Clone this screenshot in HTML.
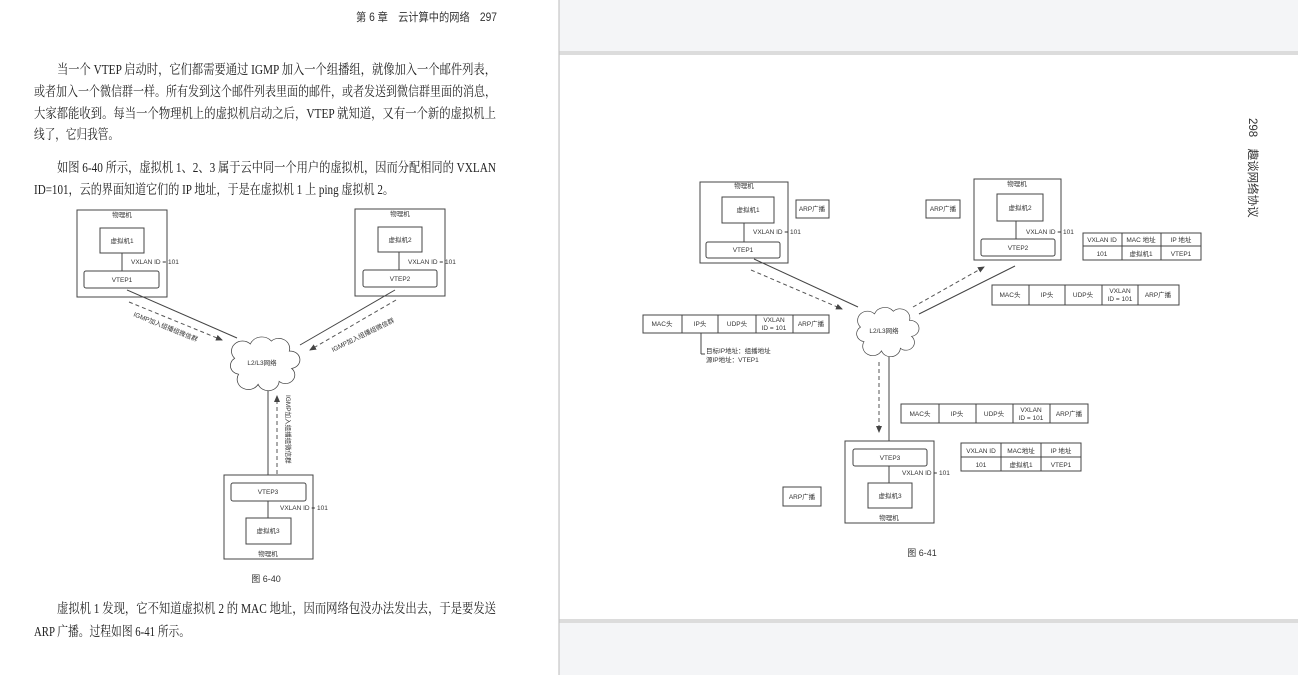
<!DOCTYPE html>
<html><head><meta charset="utf-8"><style>
html,body{margin:0;padding:0;background:#fff;}
svg{display:block;}
.s{font-family:"Liberation Serif","Noto Serif CJK SC",serif;font-size:13.5px;fill:#222;}
.h{font-family:"Liberation Sans","Noto Sans CJK SC",sans-serif;font-size:11.5px;fill:#333;}
.d{font-family:"Liberation Sans","Noto Sans CJK SC",sans-serif;font-size:6.5px;fill:#333;}
.c{font-family:"Liberation Sans","Noto Sans CJK SC",sans-serif;font-size:9px;fill:#333;}
rect.b,path.b{fill:#fff;stroke:#444;stroke-width:1;}
line.l{stroke:#444;stroke-width:1;}
line.da{stroke:#555;stroke-width:1;stroke-dasharray:4,3;}
</style></head><body>
<svg width="1298" height="675" viewBox="0 0 1298 675" xmlns="http://www.w3.org/2000/svg">
<defs>
<marker id="ar" markerWidth="8" markerHeight="8" refX="6" refY="3" orient="auto" markerUnits="userSpaceOnUse"><path d="M0,0 L7,3 L0,6 Z" fill="#444"/></marker>
<path id="cloud" d="M20,60 A12,12 0 0 1 15,38 A14,14 0 0 1 35,18 A16,16 0 0 1 62,14 A14,14 0 0 1 85,28 A12,12 0 0 1 88,52 A12,12 0 0 1 72,70 A14,14 0 0 1 45,74 A14,14 0 0 1 20,60 Z"/>
</defs>
<!-- right side background -->
<rect x="559" y="0" width="739" height="675" fill="#f4f5f7"/>
<rect x="559" y="51" width="739" height="4" fill="#dcdcdc"/>
<rect x="560" y="55" width="738" height="565" fill="#fff"/>
<rect x="559" y="619" width="739" height="4" fill="#dcdcdc"/>
<line x1="559" y1="0" x2="559" y2="675" stroke="#bbb" stroke-width="1"/>

<!-- left page text -->
<text class="h" x="356" y="21" textLength="141" lengthAdjust="spacingAndGlyphs">第 6 章　云计算中的网络　297</text>
<text class="s" x="57" y="74" textLength="439" lengthAdjust="spacingAndGlyphs">当一个 VTEP 启动时，它们都需要通过 IGMP 加入一个组播组，就像加入一个邮件列表，</text>
<text class="s" x="34" y="96" textLength="462" lengthAdjust="spacingAndGlyphs">或者加入一个微信群一样。所有发到这个邮件列表里面的邮件，或者发送到微信群里面的消息，</text>
<text class="s" x="34" y="118" textLength="462" lengthAdjust="spacingAndGlyphs">大家都能收到。每当一个物理机上的虚拟机启动之后，VTEP 就知道，又有一个新的虚拟机上</text>
<text class="s" x="34" y="139" textLength="85" lengthAdjust="spacingAndGlyphs">线了，它归我管。</text>
<text class="s" x="57" y="172" textLength="439" lengthAdjust="spacingAndGlyphs">如图 6-40 所示，虚拟机 1、2、3 属于云中同一个用户的虚拟机，因而分配相同的 VXLAN</text>
<text class="s" x="34" y="194" textLength="360" lengthAdjust="spacingAndGlyphs">ID=101，云的界面知道它们的 IP 地址，于是在虚拟机 1 上 ping 虚拟机 2。</text>
<text class="s" x="57" y="613" textLength="439" lengthAdjust="spacingAndGlyphs">虚拟机 1 发现，它不知道虚拟机 2 的 MAC 地址，因而网络包没办法发出去，于是要发送</text>
<text class="s" x="34" y="636" textLength="156" lengthAdjust="spacingAndGlyphs">ARP 广播。过程如图 6-41 所示。</text>

<!-- Fig 6-40 -->
<rect class="b" x="77" y="210" width="90" height="87"/>
<text class="d" x="122" y="217" text-anchor="middle">物理机</text>
<rect class="b" x="100" y="228" width="44" height="25"/>
<text class="d" x="122" y="243" text-anchor="middle">虚拟机1</text>
<line class="l" x1="122" y1="253" x2="122" y2="271"/>
<text class="d" x="131" y="264">VXLAN ID = 101</text>
<rect class="b" x="84" y="271" width="75" height="17" rx="2"/>
<text class="d" x="122" y="282" text-anchor="middle">VTEP1</text>

<rect class="b" x="355" y="209" width="90" height="87"/>
<text class="d" x="400" y="216" text-anchor="middle">物理机</text>
<rect class="b" x="378" y="227" width="44" height="25"/>
<text class="d" x="400" y="242" text-anchor="middle">虚拟机2</text>
<line class="l" x1="399" y1="252" x2="399" y2="270"/>
<text class="d" x="408" y="264">VXLAN ID = 101</text>
<rect class="b" x="363" y="270" width="74" height="17" rx="2"/>
<text class="d" x="400" y="281" text-anchor="middle">VTEP2</text>

<line class="l" x1="127" y1="290" x2="237" y2="338"/>
<line class="da" x1="129" y1="302" x2="222" y2="340" marker-end="url(#ar)"/>
<text class="d" transform="translate(133,316) rotate(22)">IGMP加入组播组微信群</text>
<line class="l" x1="395" y1="290" x2="300" y2="345"/>
<line class="da" x1="396" y1="300" x2="310" y2="350" marker-end="url(#ar)"/>
<text class="d" transform="translate(333,352) rotate(-26)">IGMP加入组播组微信群</text>
<line class="l" x1="268" y1="390" x2="268" y2="483"/>
<line class="da" x1="277" y1="474" x2="277" y2="396" marker-end="url(#ar)"/>
<text class="d" transform="translate(286,395) rotate(90)">IGMP加入组播组微信群</text>

<use href="#cloud" transform="translate(223,331) scale(0.78,0.72)" fill="#fff" stroke="#444" stroke-width="1" vector-effect="non-scaling-stroke"/>
<text class="d" x="262" y="365" text-anchor="middle">L2/L3网络</text>

<rect class="b" x="224" y="475" width="89" height="84"/>
<rect class="b" x="231" y="483" width="75" height="18" rx="2"/>
<text class="d" x="268" y="494" text-anchor="middle">VTEP3</text>
<line class="l" x1="268" y1="501" x2="268" y2="518"/>
<text class="d" x="280" y="510">VXLAN ID = 101</text>
<rect class="b" x="246" y="518" width="45" height="26"/>
<text class="d" x="268" y="533" text-anchor="middle">虚拟机3</text>
<text class="d" x="268" y="556" text-anchor="middle">物理机</text>
<text class="c" x="266" y="582" text-anchor="middle">图 6-40</text>

<!-- Fig 6-41 -->
<rect class="b" x="700" y="182" width="88" height="81"/>
<text class="d" x="744" y="188" text-anchor="middle">物理机</text>
<rect class="b" x="722" y="197" width="52" height="26"/>
<text class="d" x="748" y="212" text-anchor="middle">虚拟机1</text>
<line class="l" x1="744" y1="223" x2="744" y2="242"/>
<text class="d" x="753" y="234">VXLAN ID = 101</text>
<rect class="b" x="706" y="242" width="74" height="16" rx="2"/>
<text class="d" x="743" y="252" text-anchor="middle">VTEP1</text>
<rect class="b" x="796" y="200" width="33" height="18"/>
<text class="d" x="812" y="211" text-anchor="middle">ARP广播</text>

<rect class="b" x="926" y="200" width="34" height="18"/>
<text class="d" x="943" y="211" text-anchor="middle">ARP广播</text>
<rect class="b" x="974" y="179" width="87" height="81"/>
<text class="d" x="1017" y="186" text-anchor="middle">物理机</text>
<rect class="b" x="997" y="194" width="46" height="27"/>
<text class="d" x="1020" y="210" text-anchor="middle">虚拟机2</text>
<line class="l" x1="1016" y1="221" x2="1016" y2="239"/>
<text class="d" x="1026" y="234">VXLAN ID = 101</text>
<rect class="b" x="981" y="239" width="74" height="17" rx="2"/>
<text class="d" x="1018" y="250" text-anchor="middle">VTEP2</text>

<!-- right table -->
<rect class="b" x="1083" y="233" width="118" height="27"/>
<line class="l" x1="1083" y1="246" x2="1201" y2="246"/>
<line class="l" x1="1122" y1="233" x2="1122" y2="260"/>
<line class="l" x1="1161" y1="233" x2="1161" y2="260"/>
<text class="d" x="1102" y="242" text-anchor="middle">VXLAN ID</text>
<text class="d" x="1141" y="242" text-anchor="middle">MAC 地址</text>
<text class="d" x="1181" y="242" text-anchor="middle">IP 地址</text>
<text class="d" x="1102" y="256" text-anchor="middle">101</text>
<text class="d" x="1141" y="256" text-anchor="middle">虚拟机1</text>
<text class="d" x="1181" y="256" text-anchor="middle">VTEP1</text>

<!-- packet right -->
<rect class="b" x="992" y="285" width="187" height="20"/>
<line class="l" x1="1029" y1="285" x2="1029" y2="305"/>
<line class="l" x1="1065" y1="285" x2="1065" y2="305"/>
<line class="l" x1="1102" y1="285" x2="1102" y2="305"/>
<line class="l" x1="1138" y1="285" x2="1138" y2="305"/>
<text class="d" x="1010" y="297" text-anchor="middle">MAC头</text>
<text class="d" x="1047" y="297" text-anchor="middle">IP头</text>
<text class="d" x="1083" y="297" text-anchor="middle">UDP头</text>
<text class="d" x="1120" y="293" text-anchor="middle">VXLAN</text>
<text class="d" x="1120" y="301" text-anchor="middle">ID = 101</text>
<text class="d" x="1158" y="297" text-anchor="middle">ARP广播</text>

<!-- packet left -->
<rect class="b" x="643" y="315" width="186" height="18"/>
<line class="l" x1="682" y1="315" x2="682" y2="333"/>
<line class="l" x1="718" y1="315" x2="718" y2="333"/>
<line class="l" x1="756" y1="315" x2="756" y2="333"/>
<line class="l" x1="793" y1="315" x2="793" y2="333"/>
<text class="d" x="662" y="326" text-anchor="middle">MAC头</text>
<text class="d" x="700" y="326" text-anchor="middle">IP头</text>
<text class="d" x="737" y="326" text-anchor="middle">UDP头</text>
<text class="d" x="774" y="322" text-anchor="middle">VXLAN</text>
<text class="d" x="774" y="330" text-anchor="middle">ID = 101</text>
<text class="d" x="811" y="326" text-anchor="middle">ARP广播</text>
<line class="l" x1="701" y1="333" x2="701" y2="354"/>
<line class="l" x1="701" y1="354" x2="705" y2="354"/>
<text class="d" x="706" y="353">目标IP地址：组播地址</text>
<text class="d" x="706" y="362">源IP地址：VTEP1</text>

<!-- connectors -->
<line class="l" x1="754" y1="259" x2="858" y2="307"/>
<line class="da" x1="751" y1="270" x2="842" y2="309" marker-end="url(#ar)"/>
<line class="l" x1="919" y1="314" x2="1015" y2="266"/>
<line class="da" x1="913" y1="307" x2="984" y2="267" marker-end="url(#ar)"/>
<line class="l" x1="889" y1="352" x2="889" y2="449"/>
<line class="da" x1="879" y1="362" x2="879" y2="432" marker-end="url(#ar)"/>

<use href="#cloud" transform="translate(850,302) scale(0.7,0.66)" fill="#fff" stroke="#444" stroke-width="1" vector-effect="non-scaling-stroke"/>
<text class="d" x="884" y="333" text-anchor="middle">L2/L3网络</text>

<!-- packet bottom -->
<rect class="b" x="901" y="404" width="187" height="19"/>
<line class="l" x1="939" y1="404" x2="939" y2="423"/>
<line class="l" x1="976" y1="404" x2="976" y2="423"/>
<line class="l" x1="1013" y1="404" x2="1013" y2="423"/>
<line class="l" x1="1050" y1="404" x2="1050" y2="423"/>
<text class="d" x="920" y="416" text-anchor="middle">MAC头</text>
<text class="d" x="957" y="416" text-anchor="middle">IP头</text>
<text class="d" x="994" y="416" text-anchor="middle">UDP头</text>
<text class="d" x="1031" y="412" text-anchor="middle">VXLAN</text>
<text class="d" x="1031" y="420" text-anchor="middle">ID = 101</text>
<text class="d" x="1069" y="416" text-anchor="middle">ARP广播</text>

<!-- bottom table -->
<rect class="b" x="961" y="443" width="120" height="28"/>
<line class="l" x1="961" y1="457" x2="1081" y2="457"/>
<line class="l" x1="1001" y1="443" x2="1001" y2="471"/>
<line class="l" x1="1041" y1="443" x2="1041" y2="471"/>
<text class="d" x="981" y="453" text-anchor="middle">VXLAN ID</text>
<text class="d" x="1021" y="453" text-anchor="middle">MAC地址</text>
<text class="d" x="1061" y="453" text-anchor="middle">IP 地址</text>
<text class="d" x="981" y="467" text-anchor="middle">101</text>
<text class="d" x="1021" y="467" text-anchor="middle">虚拟机1</text>
<text class="d" x="1061" y="467" text-anchor="middle">VTEP1</text>

<!-- box3 -->
<rect class="b" x="845" y="441" width="89" height="82"/>
<rect class="b" x="853" y="449" width="74" height="17" rx="2"/>
<text class="d" x="890" y="460" text-anchor="middle">VTEP3</text>
<line class="l" x1="889" y1="466" x2="889" y2="483"/>
<text class="d" x="902" y="475">VXLAN ID = 101</text>
<rect class="b" x="868" y="483" width="44" height="25"/>
<text class="d" x="890" y="498" text-anchor="middle">虚拟机3</text>
<text class="d" x="889" y="520" text-anchor="middle">物理机</text>
<rect class="b" x="783" y="487" width="38" height="19"/>
<text class="d" x="802" y="499" text-anchor="middle">ARP广播</text>
<text class="c" x="922" y="556" text-anchor="middle">图 6-41</text>

<text class="h" transform="translate(1249,118) rotate(90)">298　趣谈网络协议</text>
</svg>
</body></html>
